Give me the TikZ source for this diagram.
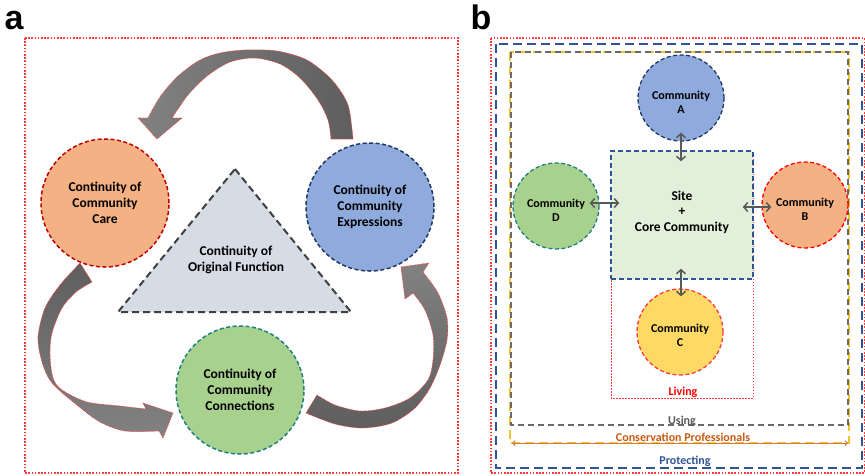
\documentclass[tikz,border=0pt]{standalone}
\usepackage{fontspec}
\setmainfont{Carlito}
\newfontfamily\panelfont{Liberation Sans}
\usetikzlibrary{arrows.meta,calc}

\definecolor{fillorange}{HTML}{F4B183}
\definecolor{fillblue}{HTML}{8FAADC}
\definecolor{fillgreen}{HTML}{A9D18E}
\definecolor{fillyellow}{HTML}{FFD966}
\definecolor{fillsite}{HTML}{E2EFDA}
\definecolor{filltri}{HTML}{D6DCE5}
\definecolor{edgered}{HTML}{C00000}
\definecolor{edgenavy}{HTML}{203864}
\definecolor{edgeteal}{HTML}{1F8080}
\definecolor{protblue}{HTML}{2F5597}
\definecolor{profgold}{HTML}{F2C230}
\definecolor{profbrown}{HTML}{C55A11}
\definecolor{usegray}{HTML}{595959}
\definecolor{arrowlight}{HTML}{828282}
\definecolor{arrowdark}{HTML}{5E5E5E}
\definecolor{dotred}{HTML}{FF3B3B}

\begin{document}
\begin{tikzpicture}[x=1pt,y=-1pt,
    every node/.style={inner sep=0pt},
    panellabel/.style={anchor=base,font=\panelfont\bfseries\fontsize{34}{34}\selectfont},
    bigcirc/.style={circle,minimum size=128pt,line width=1.5pt,dash pattern=on 4pt off 2.5pt,
      align=center,font=\bfseries\fontsize{13.5}{16}\selectfont},
    smallcirc/.style={circle,minimum size=86pt,line width=1.3pt,dash pattern=on 4pt off 2.5pt},
    commtext/.style={align=center,font=\bfseries\fontsize{12}{14}\selectfont},
    framebox/.style={draw=dotred,line width=1.1pt,dash pattern=on 1.6pt off 1.6pt},
    bigarrow/.style={draw=dotred,line width=0.6pt,dash pattern=on 0.8pt off 0.8pt},
    biarrow/.style={draw=usegray,line width=1.5pt,{Straight Barb[length=4pt,width=9pt]}-{Straight Barb[length=4pt,width=9pt]}},
    ringlabel/.style={font=\bfseries\fontsize{12}{14}\selectfont}]
\useasboundingbox (0,0) rectangle (865,475);

% panel a
\node[panellabel] (la) at (14,29) {a};
\draw[framebox] (25,38) rectangle (458,473);

\draw[fill=filltri,draw=black!75,line width=2pt,dash pattern=on 7pt off 4pt] (235,169) -- (351,312) -- (118,312) -- cycle;
\node[align=center,font=\bfseries\fontsize{13.5}{16}\selectfont] (origfn) at (236,260) {Continuity of\\Original Function};

\node[bigcirc,fill=fillorange,draw=edgered] (care) at (105,203) {Continuity of\\Community\\Care};
\node[bigcirc,fill=fillblue,draw=edgenavy] (expr) at (370,207) {Continuity of\\Community\\Expressions};
\node[bigcirc,fill=fillgreen,draw=edgeteal] (conn) at (240,390) {Continuity of\\Community\\Connections};

% expressions -> care
\path[bigarrow,left color=arrowlight,right color=arrowdark]
  plot[smooth] coordinates {(353,139) (348,105) (332,80) (307,60) (277,51) (245,50) (220,53) (200,60) (178,76) (160,97) (148,118)}
  -- (138,118) -- (157,139) -- (182,118)
  -- plot[smooth] coordinates {(172,118) (188,95) (207,76) (230,62) (255,58) (280,64) (300,78) (318,100) (328,120) (331,139)}
  -- cycle;
% care -> connections
\path[bigarrow,top color=arrowdark,bottom color=arrowlight]
  plot[smooth] coordinates {(80,263) (60,285) (45,308) (38,337) (42,362) (52,383) (77,405) (100,422) (125,431) (159,431)}
  -- (163,438) -- (173,413) -- (143,403)
  -- plot[smooth] coordinates {(146,409) (120,406) (87,402) (62,390) (53,378) (50,355) (52,333) (62,308) (76,292) (92,282)}
  -- cycle;
% connections -> expressions
\path[bigarrow,top color=arrowlight,bottom color=arrowdark]
  plot[smooth] coordinates {(306,413) (335,424) (363,428) (392,423) (415,408) (430,388) (440,365) (447,340) (447,318) (438,293) (423,272)}
  -- (429,263) -- (401,267) -- (405,299)
  -- plot[smooth] coordinates {(413,293) (425,310) (433,335) (433,360) (428,380) (410,398) (385,408) (360,411) (335,405) (317,395)}
  -- cycle;

% panel b
\node[panellabel] (lb) at (481,29) {b};
\draw[framebox] (491,38) rectangle (864.5,473);
\draw[draw=protblue,line width=2pt,dash pattern=on 9pt off 5pt] (496,44) rectangle (862,468);
\draw[draw=profgold,line width=2pt,dash pattern=on 9pt off 5pt] (510,52) rectangle (849,443);
\draw[draw=usegray!90,line width=1.5pt,dash pattern=on 6pt off 4pt] (511,52) rectangle (848,425);
\draw[draw=dotred,line width=1pt,dash pattern=on 1.5pt off 1.5pt] (611,151) rectangle (753,398);

\node[draw=protblue,fill=fillsite,line width=1.5pt,dash pattern=on 5pt off 3pt,
  minimum width=142pt,minimum height=128pt] (site) at (682,215) {};
\node[align=center,font=\bfseries\fontsize{13.5}{15.5}\selectfont] (sitetext) at (682,212) {Site\\+\\Core Community};

\node[smallcirc,fill=fillblue,draw=edgenavy] (ca) at (681,98) {};
\node[smallcirc,fill=fillorange,draw=red] (cb) at (805,205) {};
\node[smallcirc,fill=fillyellow,draw=dotred] (cc) at (680,332) {};
\node[smallcirc,fill=fillgreen,draw=edgeteal] (cd) at (556,206) {};
\node[commtext] (catext) at ($(ca)+(0,4)$) {Community\\A};
\node[commtext] (cbtext) at ($(cb)+(0,4)$) {Community\\B};
\node[commtext] (cctext) at ($(cc)+(0,3)$) {Community\\C};
\node[commtext] (cdtext) at ($(cd)+(0,4)$) {Community\\D};

\draw[biarrow] ($(ca.south)+(0,-9)$) -- ($(ca.south |- site.north)+(0,11)$);
\draw[biarrow] ($(cd.east)+(-10,-3)$) -- ($(cd.east -| site.west)+(9,-3)$);
\draw[biarrow] ($(cb.west)+(10,2)$) -- ($(cb.west -| site.east)+(-11,2)$);
\draw[biarrow] ($(cc.north)+(1,8)$) -- ($(cc.north |- site.south)+(1,-11)$);

\node[ringlabel,text=red] (living) at (683,392) {Living};
\node[ringlabel,text=usegray] (using) at (682,421) {Using};
\node[ringlabel,text=profbrown] (consprof) at (683,437) {Conservation Professionals};
\node[ringlabel,text=protblue] (protecting) at (685,461) {Protecting};

\coordinate (profL) at (512,443);
\coordinate (profR) at (848,443);
\draw[draw=profbrown!80,line width=1pt,{Straight Barb[length=2.5pt,width=5pt]}-{Straight Barb[length=2.5pt,width=5pt]}] (profL) -- (profR);
\end{tikzpicture}
\end{document}
